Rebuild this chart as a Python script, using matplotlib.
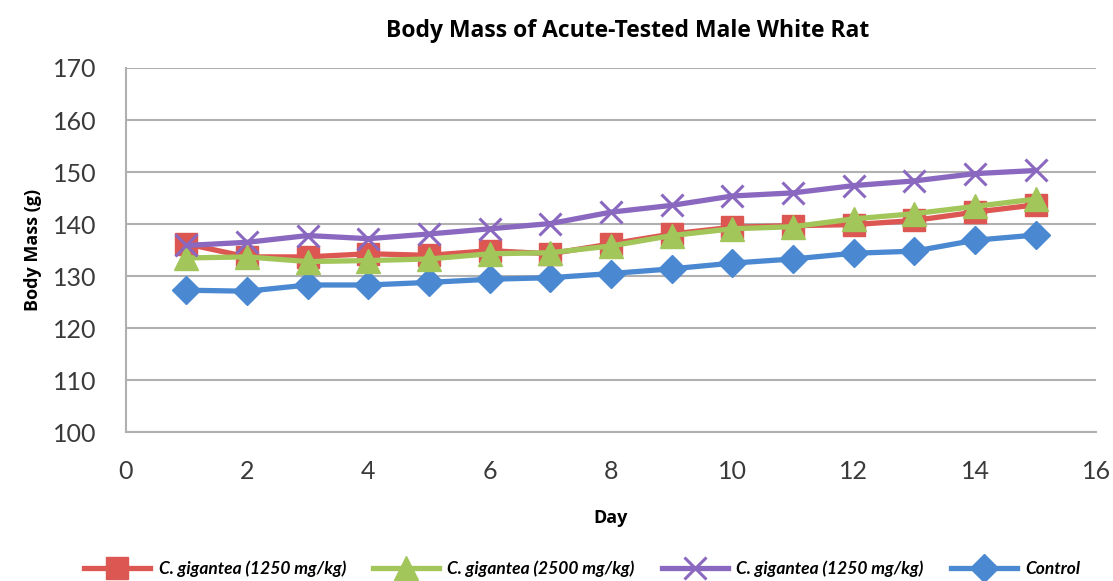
import numpy as np
import matplotlib.pyplot as plt

days = list(range(1, 16))
cg1250_a = [136.2, 133.7, 133.7, 134.3, 134.0, 134.9, 134.3, 136.2, 138.1, 139.4, 139.7, 139.9, 140.7, 142.3, 143.7]
cg2500 = [133.5, 133.7, 132.8, 133.0, 133.3, 134.3, 134.5, 135.8, 137.8, 139.1, 139.5, 141.0, 142.0, 143.4, 144.8]
cg1250_b = [135.9, 136.5, 137.8, 137.2, 138.1, 139.1, 140.1, 142.3, 143.6, 145.4, 146.0, 147.4, 148.3, 149.7, 150.3]
control = [127.3, 127.1, 128.3, 128.3, 128.8, 129.4, 129.7, 130.5, 131.4, 132.5, 133.3, 134.4, 134.8, 136.9, 137.9]

labels = ['C. gigantea (1250 mg/kg)', 'C. gigantea (2500 mg/kg)',
          'C. gigantea (1250 mg/kg)', 'Control']

plt.rcParams['font.family'] = ['Lato', 'DejaVu Sans']

fig = plt.figure(figsize=(11.13, 5.81), dpi=100)
ax = fig.add_axes([0.113, 0.256, 0.872, 0.627])

ax.plot(days, control, color='#4a89d2', lw=3.8, marker='D', ms=14, zorder=3, label=labels[3])
ax.plot(days, cg1250_a, color='#dc5652', lw=3.8, marker='s', ms=16, zorder=4, label=labels[0])
ax.plot(days, cg2500, color='#a2c65a', lw=3.8, marker='^', ms=17, zorder=5, label=labels[1])
ax.plot(days, cg1250_b, color='#8a68c0', lw=3.8, marker='x', ms=16, mew=2.2, zorder=6, label=labels[2])

ax.set_xlim(0, 16)
ax.set_ylim(100, 170)
ax.set_xticks(range(0, 17, 2))
ax.set_yticks(range(100, 171, 10))
ax.grid(axis='y', color='#b0b0b0', lw=1.5)
ax.set_axisbelow(True)
for s in ['top', 'right']:
    ax.spines[s].set_visible(False)
ax.spines['left'].set_color('#b0b0b0')
ax.spines['bottom'].set_color('#b0b0b0')
ax.spines['left'].set_linewidth(1.5)
ax.spines['bottom'].set_linewidth(1.5)
ax.tick_params(length=0, labelsize=18, colors='#3a3a3a')
ax.tick_params(axis='x', pad=20)
ax.tick_params(axis='y', pad=21)

bold = {'family': ['Open Sans', 'DejaVu Sans'], 'weight': 'bold'}
ax.set_title('Body Mass of Acute-Tested Male White Rat', fontsize=16.5, fontdict=bold, pad=22, x=0.5175)
ax.set_ylabel('Body Mass (g)', fontsize=13, fontdict=bold, labelpad=8)
ax.set_xlabel('Day', fontsize=13, fontdict=bold, labelpad=19)

h, l = ax.get_legend_handles_labels()
order = [1, 2, 3, 0]
leg = fig.legend([h[i] for i in order], [l[i] for i in order], loc='lower center',
                 bbox_to_anchor=(0.523, -0.02), ncol=4, frameon=False, handlelength=3.8,
                 handletextpad=0.5, columnspacing=1.55,
                 prop={'size': 12.5, 'style': 'italic', 'weight': 'bold'})

fig.savefig('out.png', dpi=100)
